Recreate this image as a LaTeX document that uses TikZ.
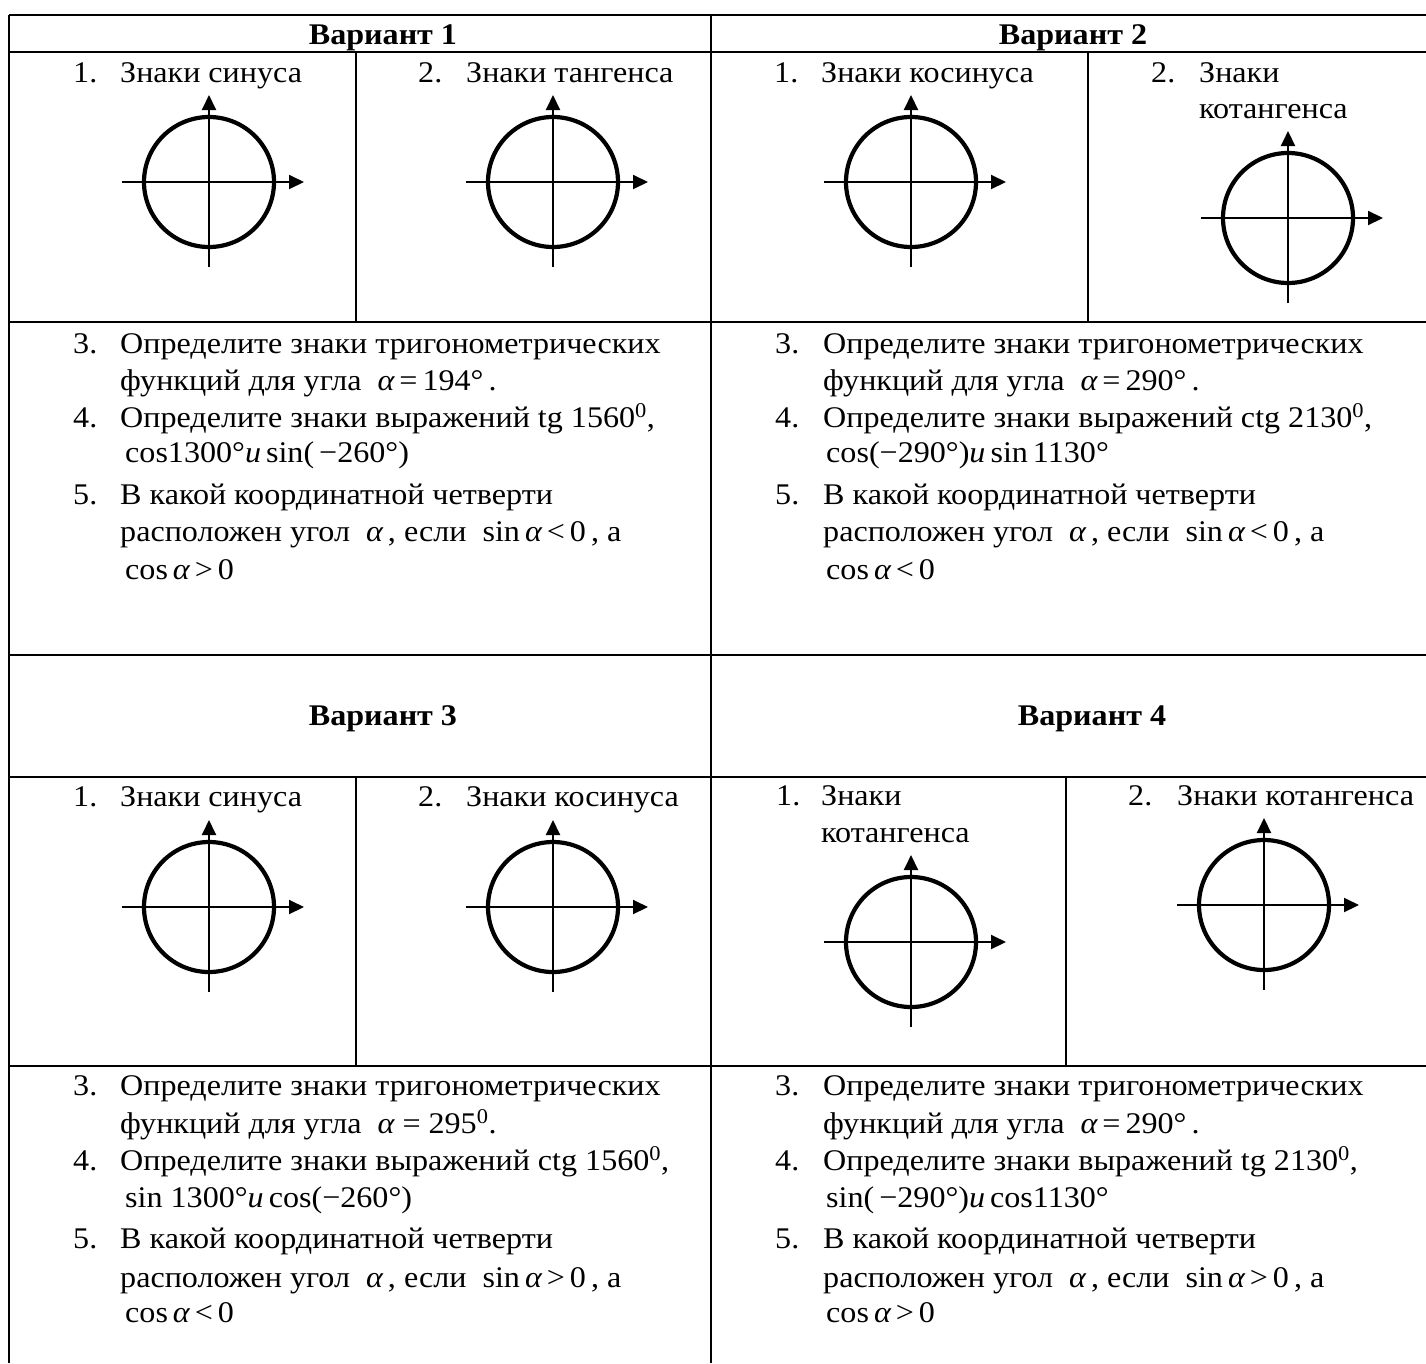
\documentclass[tikz,border=0pt]{standalone}
\usepackage{fontspec}
\setmainfont[FakeStretch=1.07]{Liberation Serif}
\usetikzlibrary{arrows.meta}
\newcommand\trigcirc[2]{%
  \draw[axisline] (#1-87,#2) -- (#1+95,#2);
  \draw[axisline] (#1,#2+85) -- (#1,#2-87);
  \draw[circline] (#1,#2) circle[radius=65];
}
\newcommand\al{{\itshape α}}
\begin{document}
\begin{tikzpicture}[x=1pt,y=-1pt,
  tabline/.style={line width=2.2pt,black},
  axisline/.style={line width=2pt,-{Triangle[length=15pt,width=14pt]}},
  circline/.style={line width=4.2pt},
  txt/.style={anchor=base west,inner sep=0pt,font=\fontsize{30}{36}\selectfont},
  hdr/.style={anchor=base,inner sep=0pt,font=\fontsize{30}{36}\selectfont\bfseries}]
\useasboundingbox (0,0) rectangle (1426,1363);
\fill[white] (0,0) rectangle (1426,1363);
% table lines
\draw[tabline] (9,15) -- (9,1363);
\draw[tabline] (711,15) -- (711,1363);
\foreach \yy in {15,52,322,655,777,1066} \draw[tabline] (9,\yy) -- (1426,\yy);
\draw[tabline] (356,52) -- (356,322);
\draw[tabline] (1088,52) -- (1088,322);
\draw[tabline] (356,777) -- (356,1066);
\draw[tabline] (1066,777) -- (1066,1066);
% headers
\node[hdr] (h1) at (383,44) {Вариант 1};
\node[hdr] (h2) at (1073,44) {Вариант 2};
\node[hdr] (h3) at (383,725) {Вариант 3};
\node[hdr] (h4) at (1092,725) {Вариант 4};
% ---------- Variant 1
\node[txt] (a1n) at (73,82) {1.};
\node[txt] (a1t) at (120,82) {Знаки синуса};
\node[txt] (a2n) at (418,82) {2.};
\node[txt] (a2t) at (466,82) {Знаки тангенса};
\trigcirc{209}{182}
\trigcirc{553}{182}
\node[txt] (a3n) at (73,353) {3.};
\node[txt] (a3t) at (120,353) {Определите знаки тригонометрических};
\node[txt] (a3u) at (120,390) {функций для угла \ \al\,=\,194°\,.};
\node[txt] (a4n) at (73,427) {4.};
\node[txt] (a4t) at (120,427) {Определите знаки выражений tg 1560\textsuperscript{0},};
\node[txt] (a4u) at (125,462) {cos1300°\textit{u}\,sin(\,−260°)};
\node[txt] (a5n) at (73,504) {5.};
\node[txt] (a5t) at (120,504) {В какой координатной четверти};
\node[txt] (a5u) at (120,541) {расположен угол \ \al\,, если \ sin\,\al\,<\,0\,, а};
\node[txt] (a5v) at (125,579) {cos\,\al\,>\,0};
% ---------- Variant 2
\node[txt] (b1n) at (774,82) {1.};
\node[txt] (b1t) at (821,82) {Знаки косинуса};
\node[txt] (b2n) at (1151,82) {2.};
\node[txt] (b2t) at (1199,82) {Знаки};
\node[txt] (b2u) at (1199,118) {котангенса};
\trigcirc{911}{182}
\trigcirc{1288}{218}
\node[txt] (b3n) at (775,353) {3.};
\node[txt] (b3t) at (823,353) {Определите знаки тригонометрических};
\node[txt] (b3u) at (823,390) {функций для угла \ \al\,=\,290°\,.};
\node[txt] (b4n) at (775,427) {4.};
\node[txt] (b4t) at (823,427) {Определите знаки выражений ctg 2130\textsuperscript{0},};
\node[txt] (b4u) at (826,462) {cos(−290°)\textit{u}\,sin\,1130°};
\node[txt] (b5n) at (775,504) {5.};
\node[txt] (b5t) at (823,504) {В какой координатной четверти};
\node[txt] (b5u) at (823,541) {расположен угол \ \al\,, если \ sin\,\al\,<\,0\,, а};
\node[txt] (b5v) at (826,579) {cos\,\al\,<\,0};
% ---------- Variant 3
\node[txt] (c1n) at (73,806) {1.};
\node[txt] (c1t) at (120,806) {Знаки синуса};
\node[txt] (c2n) at (418,806) {2.};
\node[txt] (c2t) at (466,806) {Знаки косинуса};
\trigcirc{209}{907}
\trigcirc{553}{907}
\node[txt] (c3n) at (73,1095) {3.};
\node[txt] (c3t) at (120,1095) {Определите знаки тригонометрических};
\node[txt] (c3u) at (120,1133) {функций для угла \ \al\ =\ 295\textsuperscript{0}.};
\node[txt] (c4n) at (73,1170) {4.};
\node[txt] (c4t) at (120,1170) {Определите знаки выражений ctg 1560\textsuperscript{0},};
\node[txt] (c4u) at (125,1207) {sin 1300°\textit{u}\,cos(−260°)};
\node[txt] (c5n) at (73,1248) {5.};
\node[txt] (c5t) at (120,1248) {В какой координатной четверти};
\node[txt] (c5u) at (120,1287) {расположен угол \ \al\,, если \ sin\,\al\,>\,0\,, а};
\node[txt] (c5v) at (125,1322) {cos\,\al\,<\,0};
% ---------- Variant 4
\node[txt] (d1n) at (776,805) {1.};
\node[txt] (d1t) at (821,805) {Знаки};
\node[txt] (d1u) at (821,842) {котангенса};
\node[txt] (d2n) at (1128,805) {2.};
\node[txt] (d2t) at (1177,805) {Знаки котангенса};
\trigcirc{911}{942}
\trigcirc{1264}{905}
\node[txt] (d3n) at (775,1095) {3.};
\node[txt] (d3t) at (823,1095) {Определите знаки тригонометрических};
\node[txt] (d3u) at (823,1133) {функций для угла \ \al\,=\,290°\,.};
\node[txt] (d4n) at (775,1170) {4.};
\node[txt] (d4t) at (823,1170) {Определите знаки выражений tg 2130\textsuperscript{0},};
\node[txt] (d4u) at (826,1207) {sin(\,−290°)\textit{u}\,cos1130°};
\node[txt] (d5n) at (775,1248) {5.};
\node[txt] (d5t) at (823,1248) {В какой координатной четверти};
\node[txt] (d5u) at (823,1287) {расположен угол \ \al\,, если \ sin\,\al\,>\,0\,, а};
\node[txt] (d5v) at (826,1322) {cos\,\al\,>\,0};
\end{tikzpicture}
\end{document}
